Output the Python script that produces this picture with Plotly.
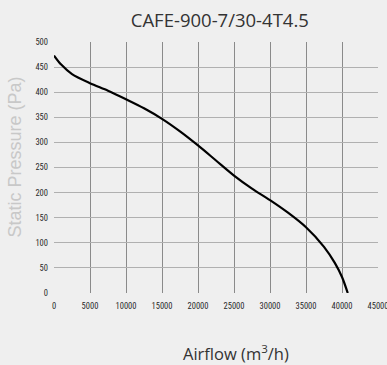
import plotly.graph_objects as go

airflow = [0, 1000, 2500, 5000, 7500, 10000, 12500, 15000, 17500, 20000, 22500, 25000,
           27500, 30000, 32500, 35000, 37500, 39000, 40000, 40800]
pressure = [473, 455, 436, 418, 403, 386, 368, 347, 322, 294, 264, 234,
            208, 185, 160, 131, 92, 60, 32, 0]

x_ticks = [0, 5000, 10000, 15000, 20000, 25000, 30000, 35000, 40000, 45000]
y_ticks = [0, 50, 100, 150, 200, 250, 300, 350, 400, 450, 500]

title_text = "CAFE-900-7/30-4T4.5"
x_title = "Airflow (m<sup>3</sup>/h)"
y_title = "Static Pressure (Pa)"

fig = go.Figure()
fig.add_trace(go.Scatter(x=airflow, y=pressure, mode="lines",
                         line=dict(color="#000000", width=2.2, shape="spline", smoothing=0.8),
                         hoverinfo="skip"))

tick_font = dict(family="Liberation Sans Narrow, Roboto Condensed, Liberation Sans, sans-serif",
                 size=8.5, color="#2a2a2a")

fig.update_layout(
    width=387, height=365,
    margin=dict(l=54, r=9, t=42, b=72, autoexpand=False),
    paper_bgcolor="#efefef", plot_bgcolor="#efefef",
    showlegend=False,
    title=dict(text=title_text, x=0.568, xanchor="center", y=0.945, yanchor="middle",
               font=dict(family="Open Sans, sans-serif", size=18.5, color="#333333")),
    xaxis=dict(range=[0, 45000], tickvals=x_ticks, ticktext=[str(v) for v in x_ticks],
               showgrid=True, gridcolor="#8a8a8a", gridwidth=1, zeroline=False,
               showline=False, tickfont=tick_font, ticks="", ticklabelstandoff=6,
               ticklabeloverflow="allow", automargin=False),
    yaxis=dict(range=[0, 500], tickvals=y_ticks, ticktext=[str(v) for v in y_ticks],
               showgrid=True, gridcolor="#b0b0b0", gridwidth=1.2, zeroline=False,
               showline=False, tickfont=tick_font, ticks="", ticklabelstandoff=5,
               ticklabeloverflow="allow", automargin=False),
    annotations=[
        dict(text=x_title, xref="paper", yref="paper", x=0.562, y=0, yshift=-60,
             xanchor="center", yanchor="middle", showarrow=False,
             font=dict(family="Open Sans, sans-serif", size=16.5, color="#333333")),
        dict(text=y_title, xref="paper", yref="paper", x=0, y=0.54, xshift=-39,
             xanchor="center", yanchor="middle", textangle=-90, showarrow=False,
             font=dict(family="Liberation Sans, sans-serif", size=18, color="#c8c8c8")),
    ],
)

fig.write_html("out.html", config={"displayModeBar": False},
               post_script="document.body.style.margin='0';document.body.style.background='#efefef';")
